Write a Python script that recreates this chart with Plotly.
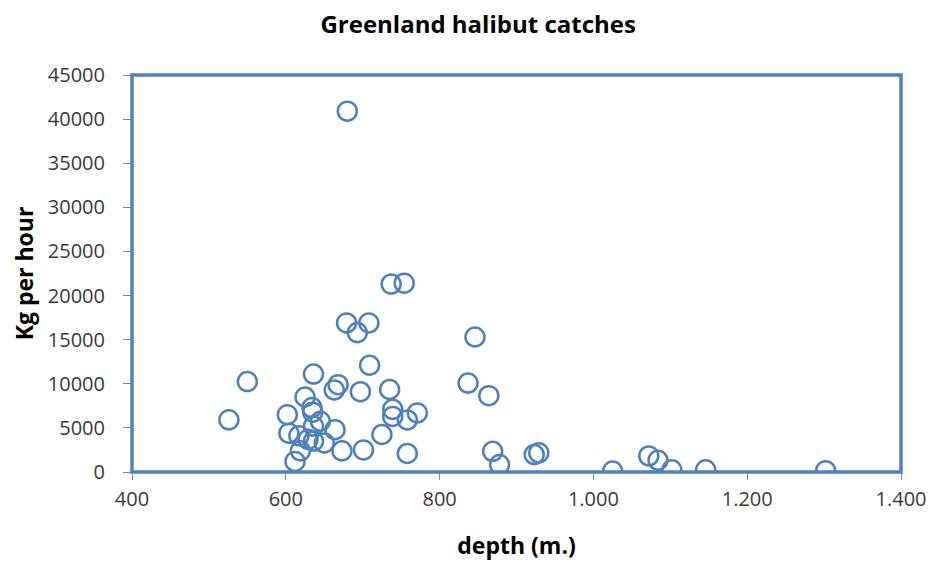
import plotly.graph_objects as go

# Greenland halibut catches - depth vs kg per hour
depth = [680, 737, 754, 679, 708, 693, 846, 709, 636, 550,
         837, 668, 663, 697, 735, 864, 625, 634, 635, 602,
         739, 739, 758, 771, 645, 636, 664, 604, 617, 629,
         636, 650, 725, 619, 612, 673, 701, 758, 869, 878,
         923, 929, 1025, 1072, 1084, 1102, 1146, 1302, 526]
kg_per_hour = [40900, 21300, 21400, 16900, 16900, 15800, 15300, 12100, 11100, 10250,
               10080, 9900, 9300, 9100, 9350, 8650, 8500, 7300, 6780, 6500,
               7100, 6300, 5900, 6700, 5750, 5200, 4800, 4400, 4100, 3700,
               3500, 3300, 4250, 2400, 1200, 2400, 2500, 2100, 2340, 845,
               1980, 2170, 100, 1820, 1330, 250, 250, 150, 5910]

x_ticks = [400, 600, 800, 1000, 1200, 1400]
x_tick_labels = ["400", "600", "800", "1.000", "1.200", "1.400"]
y_ticks = [0, 5000, 10000, 15000, 20000, 25000, 30000, 35000, 40000, 45000]

blue = "#4F81BD"
font = "Open Sans"

fig = go.Figure()
fig.add_trace(go.Scatter(
    x=depth, y=kg_per_hour, mode="markers",
    marker=dict(size=19, color="rgba(0,0,0,0)", line=dict(color=blue, width=2.5)),
    showlegend=False,
))

# thick blue frame round the plot area
fig.add_shape(type="rect", xref="paper", yref="paper", x0=0, x1=1, y0=0, y1=1,
              line=dict(color=blue, width=3.5), layer="above")

# page body has an 8px margin, so the figure is sized a little smaller
fig.update_layout(
    width=931, height=559,
    margin=dict(l=122, r=30, t=67, b=95),
    paper_bgcolor="white", plot_bgcolor="white",
    font=dict(family=font, size=20, color="#3a3a3a"),
    title=dict(text="<b>Greenland halibut catches</b>", x=0.505, xanchor="center",
               y=0.97, yanchor="middle", font=dict(family=font, size=24, color="black")),
)
fig.update_xaxes(
    range=[400, 1400], tickvals=x_ticks, ticktext=x_tick_labels,
    showgrid=False, zeroline=False, showline=False,
    ticks="outside", ticklen=7, tickcolor="#888888", ticklabelstandoff=2,
    title=dict(text="<b>depth (m.)</b>", font=dict(size=23, color="black"), standoff=26),
)
fig.update_yaxes(
    range=[0, 45000], tickvals=y_ticks, tickformat="d",
    showgrid=False, zeroline=False, showline=False,
    ticks="outside", ticklen=8, tickcolor="#888888", ticklabelstandoff=14,
    title=dict(text="<b>Kg per hour</b>", font=dict(size=23, color="black"), standoff=12),
)

fig.write_html("out.html")
